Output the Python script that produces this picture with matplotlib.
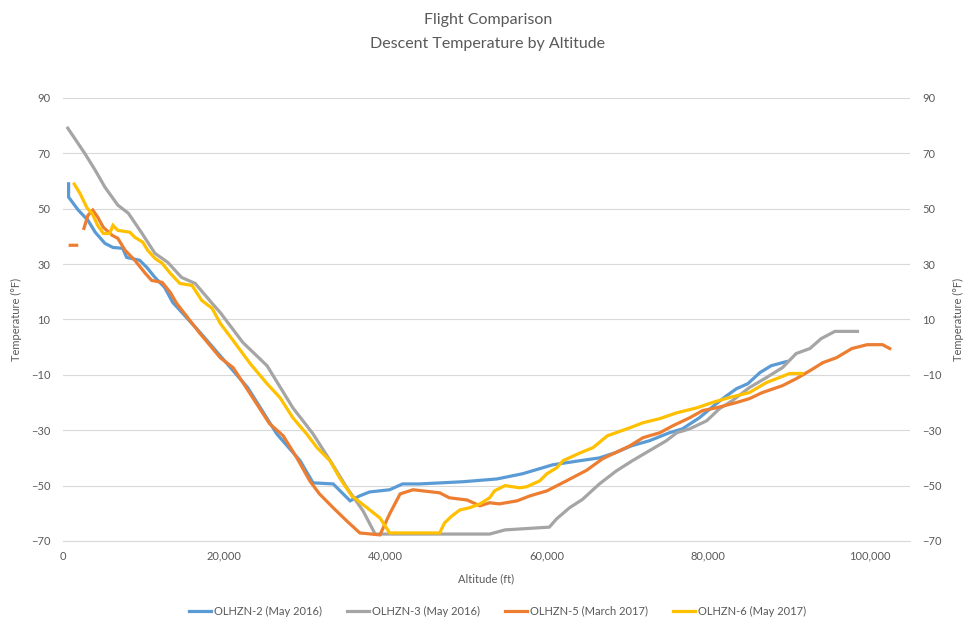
import numpy as np
from matplotlib import pyplot as plt
from matplotlib.ticker import FuncFormatter

plt.rcParams['font.family'] = ['Lato', 'DejaVu Sans']

# Altitude (ft) / temperature (F)
alt_2 = [700, 700, 1900, 3100, 4000, 5200, 6200, 7400, 7900, 9500, 10400, 11400,
         12600, 13600, 17000, 22900, 26500, 29400, 31000, 33500, 35600, 36800,
         38000, 40500, 42100, 44200, 49600, 53800, 57000, 60700, 64100, 66500,
         68600, 70500, 72700, 75200, 76800, 78900, 81000, 82300, 83500, 84900,
         86400, 87800, 89700]
temp_2 = [59.0, 54.2, 49.5, 45.8, 41.5, 37.5, 36.0, 35.7, 32.4, 31.4, 28.8, 25.2,
          21.6, 16.2, 5.3, -14.6, -31.3, -41.0, -49.0, -49.4, -55.5, -53.7,
          -52.3, -51.5, -49.4, -49.4, -48.6, -47.6, -45.7, -42.5, -41.0, -40.0,
          -38.0, -35.6, -33.8, -30.9, -29.5, -25.5, -20.4, -17.5, -15.0, -13.2,
          -9.2, -6.7, -5.2]

alt_3 = [600, 2700, 4000, 5200, 6800, 8100, 9800, 11400, 13000, 14700, 16400,
         18500, 19500, 22300, 25300, 28500, 31000, 33300, 35200, 37200, 38700,
         52900, 54800, 60300, 61200, 62800, 64400, 66500, 68600, 70600, 72700,
         74800, 76100, 77700, 79800, 81400, 83000, 85100, 87200, 89200, 90900,
         92600, 94000, 95700, 98500]
temp_3 = [79.1, 70.0, 63.9, 57.8, 51.3, 48.4, 41.1, 33.9, 30.6, 25.2, 23.0,
          15.8, 12.5, 1.7, -6.7, -21.9, -31.3, -41.8, -50.8, -59.1, -67.5,
          -67.5, -66.0, -65.0, -62.0, -58.0, -55.0, -49.4, -44.7, -41.0, -37.4,
          -33.8, -30.9, -29.5, -26.6, -22.2, -19.3, -14.6, -11.0, -7.4, -2.3,
          -0.5, 3.1, 5.7, 5.7]

alt_5 = [900, 1700, np.nan, 2600, 3100, 3700, 4300, 5000, 6100, 6800, 7700,
         8900, 10200, 11000, 12300, 13300, 14100, 17000, 19500, 21100, 23200,
         25600, 27300, 29000, 30600, 31800, 33500, 35200, 36800, 39300, 40500,
         41800, 43400, 46700, 47900, 50100, 51700, 52900, 54100, 56300, 57900,
         60000, 62400, 64900, 66900, 69000, 70300, 71900, 74000, 75600, 77700,
         79300, 81000, 83500, 85100, 86700, 89200, 90900, 92600, 94200, 95900,
         97800, 99700, 101600, 102500]
temp_5 = [36.8, 36.8, np.nan, 42.9, 47.6, 49.5, 47.0, 43.3, 40.4, 39.3, 35.0,
          31.4, 26.7, 24.1, 23.4, 19.8, 15.8, 4.9, -3.8, -7.4, -16.8,
          -27.6, -32.0, -40.0, -48.3, -53.0, -58.0, -62.8, -67.1, -67.8, -60.2,
          -53.0, -51.5, -52.6, -54.4, -55.2, -57.3, -56.2, -56.6, -55.5, -53.7,
          -51.9, -48.3, -44.5, -40.3, -37.4, -35.6, -32.7, -30.9, -28.4, -25.5,
          -22.9, -21.9, -20.0, -18.6, -16.4, -13.9, -11.4, -8.5, -5.6, -3.8,
          -0.5, 0.9, 0.9, -0.5]

alt_6 = [1400, 2100, 3000, 3600, 4300, 5000, 5800, 6200, 6800, 8300, 8900,
         9900, 10500, 11400, 12300, 13300, 14500, 16000, 17200, 18500, 19500,
         21100, 23200, 25300, 26900, 28500, 30200, 31500, 33100, 34300, 35800,
         37700, 39300, 40500, 46700, 47300, 48200, 49200, 50400, 51700, 52900,
         53500, 54800, 56600, 57500, 59100, 60000, 61200, 62000, 64100, 65700,
         67500, 70300, 71900, 74000, 76100, 78600, 80500, 82600, 85100, 87200,
         88800, 90100, 91600]
temp_6 = [58.9, 55.6, 50.2, 48.4, 44.0, 41.1, 41.1, 44.0, 42.2, 41.5, 39.7,
          37.9, 35.0, 32.1, 30.3, 26.7, 23.0, 22.3, 16.9, 14.0, 8.6,
          2.4, -5.9, -13.2, -18.2, -25.5, -31.3, -36.3, -41.0, -47.2, -53.7,
          -58.0, -61.7, -67.1, -67.1, -63.5, -61.0, -58.8, -58.0, -56.6, -54.4,
          -51.9, -50.0, -50.8, -50.4, -48.3, -45.7, -43.6, -41.0, -38.2, -36.3,
          -32.0, -29.1, -27.3, -25.8, -23.7, -21.9, -20.0, -18.2, -16.4, -12.8,
          -11.0, -9.5, -9.5]

labels = ['OLHZN-2 (May 2016)', 'OLHZN-3 (May 2016)',
          'OLHZN-5 (March 2017)', 'OLHZN-6 (May 2017)']
colors = ['#5B9BD5', '#A5A5A5', '#ED7D31', '#FFC000']
y_ticks = [-70, -50, -30, -10, 10, 30, 50, 70, 90]
x_ticks = [0, 20000, 40000, 60000, 80000, 100000]

text_col = '#595959'
grid_col = '#D9D9D9'

fig = plt.figure(figsize=(9.76, 6.3), dpi=100)
ax = fig.add_axes([0.0645, 0.1413, 0.8678, 0.7032])

for xs, ys, lab, col in zip([alt_2, alt_3, alt_5, alt_6],
                            [temp_2, temp_3, temp_5, temp_6], labels, colors):
    ax.plot(xs, ys, color=col, lw=2.3, label=lab, solid_joinstyle='miter')

ax.set_xlim(0, 105000)
ax.set_ylim(-70, 90)
ax.set_yticks(y_ticks)
ax.set_xticks(x_ticks)
ax.xaxis.set_major_formatter(FuncFormatter(lambda v, p: f'{int(v):,}'))
ax.grid(axis='y', color=grid_col, lw=0.8)
ax.set_axisbelow(True)
for s in ['top', 'right', 'left']:
    ax.spines[s].set_visible(False)
ax.spines['bottom'].set_color(grid_col)
ax.spines['bottom'].set_linewidth(0.8)
ax.tick_params(length=0, labelsize=8, labelcolor=text_col, pad=9)
ax.tick_params(axis='x', pad=7)
ax.set_xlabel('Altitude (ft)', fontsize=8, color=text_col, labelpad=8)
ax.set_ylabel('Temperature (°F)', fontsize=8, color=text_col)
ax.yaxis.set_label_coords(-0.048, 0.5)

# right hand copy of the temperature axis
ax2 = ax.twinx()
ax2.set_ylim(-70, 90)
ax2.set_yticks(y_ticks)
for s in ax2.spines.values():
    s.set_visible(False)
ax2.tick_params(length=0, labelsize=8, labelcolor=text_col, pad=9)
ax2.set_ylabel('Temperature (°F)', fontsize=8, color=text_col, rotation=90)
ax2.yaxis.set_label_coords(1.051, 0.5)

fig.text(0.5, 0.968, 'Flight Comparison', ha='center', va='center',
         fontsize=11.5, color=text_col)
fig.text(0.5, 0.930, 'Descent Temperature by Altitude', ha='center',
         va='center', fontsize=11.5, color=text_col)

ax.legend(loc='center', bbox_to_anchor=(0.51, 0.03), bbox_transform=fig.transFigure,
          ncol=4, frameon=False, fontsize=8, labelcolor=text_col,
          handlelength=2.0, handletextpad=0.3, columnspacing=2.2)

plt.savefig('out.png', dpi=100)
